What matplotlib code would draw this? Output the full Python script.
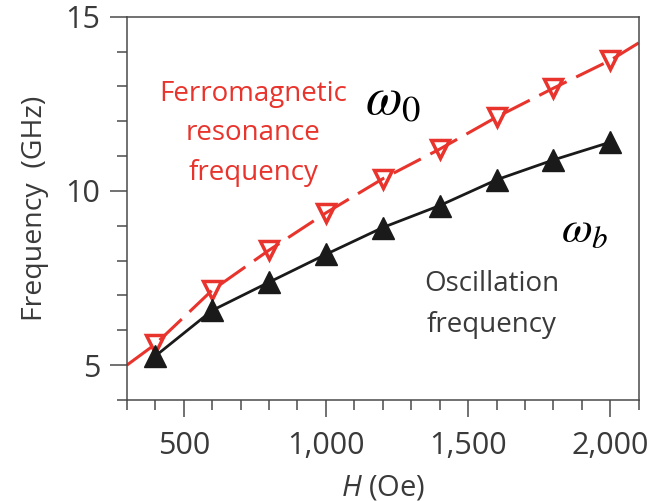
import matplotlib
matplotlib.use("Agg")
import matplotlib.pyplot as plt
from matplotlib.ticker import MultipleLocator, FuncFormatter

# field values (Oe)
field = [400, 600, 800, 1000, 1200, 1400, 1600, 1800, 2000]
# ferromagnetic resonance frequency (GHz), open red triangles
f_res = [5.6, 7.15, 8.3, 9.37, 10.35, 11.2, 12.12, 12.95, 13.75]
# oscillation frequency (GHz), filled black triangles
f_osc = [5.26, 6.57, 7.38, 8.18, 8.95, 9.58, 10.32, 10.89, 11.4]
# dashed fit curve for resonance, incl. the ends at the axis edges
fit_field = [300, 400, 600, 800, 1000, 1200, 1400, 1600, 1800, 2000, 2100]
fit_res = [5.0, 5.6, 7.15, 8.3, 9.37, 10.35, 11.2, 12.12, 12.95, 13.75, 14.25]

red = "#e8342c"
grey = "#4a4a4a"
txt = "#3a3a3a"

plt.rcParams["font.family"] = ["Open Sans", "DejaVu Sans"]
# italic H in the x label in the sans font, omegas in stix (see below)
plt.rcParams["mathtext.fontset"] = "custom"
plt.rcParams["mathtext.it"] = "Open Sans:italic"
plt.rcParams["mathtext.rm"] = "Open Sans"

fig = plt.figure(figsize=(6.64, 5.01), dpi=100)
ax = fig.add_axes([0.191, 0.2016, 0.771, 0.765])

ax.plot(fit_field, fit_res, color=red, lw=2.2, dashes=(10, 3.5), zorder=2)
ax.plot(field, f_res, ls="none", marker="v", ms=13.5, mfc="none",
        mec=red, mew=2.5, zorder=3)
ax.plot(field, f_osc, color="#1a1a1a", lw=2, marker="^", ms=16,
        mfc="#1a1a1a", mec="#1a1a1a", zorder=4)

ax.set_xlim(300, 2100)
ax.set_ylim(4.0, 15)
ax.xaxis.set_major_locator(MultipleLocator(500))
ax.xaxis.set_minor_locator(MultipleLocator(100))
ax.yaxis.set_major_locator(MultipleLocator(5))
ax.yaxis.set_minor_locator(MultipleLocator(1))
ax.xaxis.set_major_formatter(FuncFormatter(lambda v, p: f"{int(v):,}"))

for s in ax.spines.values():
    s.set_color(grey)
    s.set_linewidth(1.1)
ax.tick_params(which="major", length=12, width=1.1, color=grey,
               labelsize=22, labelcolor=txt, pad=7)
ax.tick_params(axis="x", which="major", pad=10)
ax.tick_params(which="minor", length=7, width=1.1, color=grey)

ax.set_xlabel("$H$ (Oe)", fontsize=21, color=txt, labelpad=9)
ax.set_ylabel("Frequency  (GHz)", fontsize=20.5, color=txt, labelpad=12)

ax.text(745, 11.65, "Ferromagnetic\nresonance\nfrequency", color=red,
        fontsize=20, ha="center", va="center", linespacing=1.55)
ax.text(1582, 6.74, "Oscillation\nfrequency", color=txt,
        fontsize=20, ha="center", va="center", linespacing=1.6)
ax.text(1235, 12.6, "$\\omega_0$", fontsize=38, ha="center", va="center",
        math_fontfamily="stix")
ax.text(1910, 8.85, "$\\omega_b$", fontsize=32, ha="center", va="center",
        math_fontfamily="stix")

fig.savefig("out.png", dpi=100)
